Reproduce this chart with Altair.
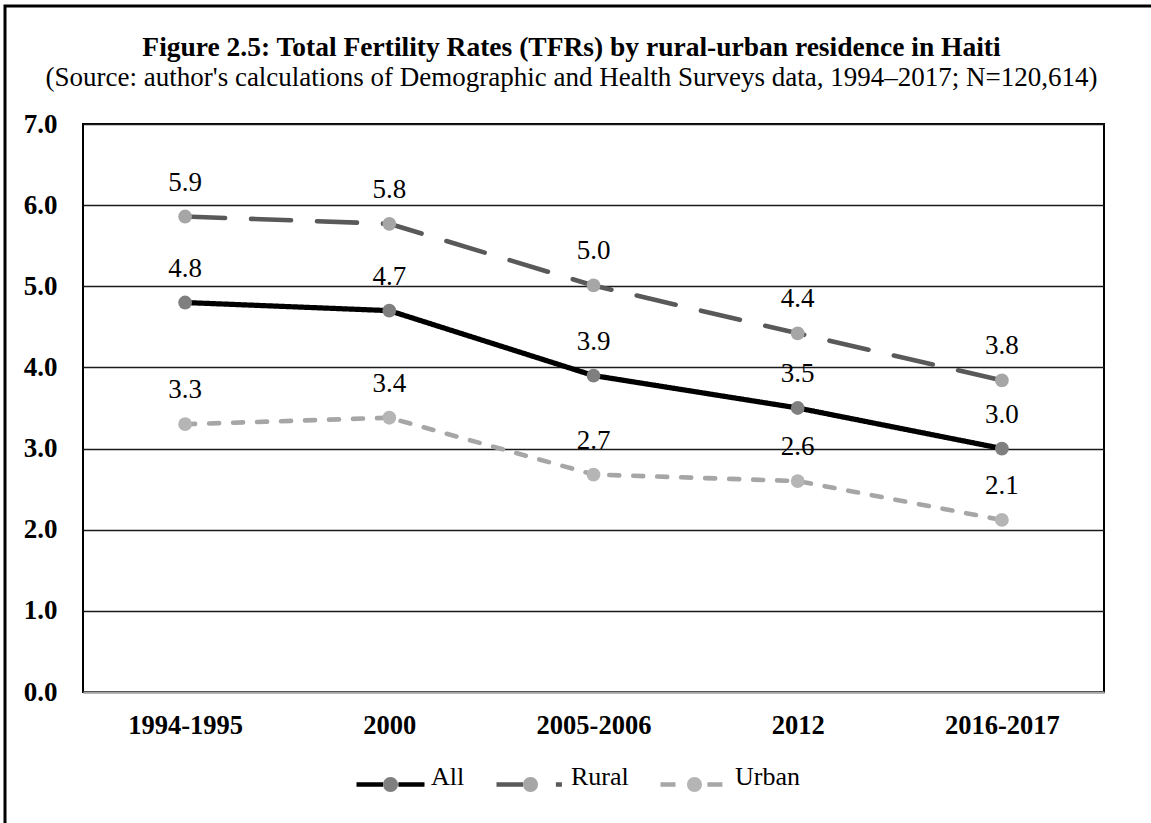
import altair as alt
import pandas as pd

# Survey rounds and Total Fertility Rates by residence
periods = ["1994-1995", "2000", "2005-2006", "2012", "2016-2017"]
series_names = ["All", "Rural", "Urban"]
all_tfr = [4.80, 4.70, 3.90, 3.50, 3.00]
rural_tfr = [5.86, 5.77, 5.01, 4.42, 3.84]
urban_tfr = [3.30, 3.38, 2.68, 2.60, 2.12]

rows = []
for name, values in zip(series_names, [all_tfr, rural_tfr, urban_tfr]):
    for period, value in zip(periods, values):
        rows.append({"period": period, "series": name, "tfr": value})
df = pd.DataFrame(rows)

SERIF = "Liberation Serif"
line_colors = ["#000000", "#595959", "#A6A6A6"]
marker_colors = ["#7F7F7F", "#A6A6A6", "#B5B5B5"]
line_widths = [5.2, 4.6, 4.6]
line_dashes = [[1, 0], [40, 26], [10, 14]]

# Legend key: one path per entry = left segment, marker circle, right segment.
# The circle's outline is traced inside a dash gap so only its fill shows.
SYM = 4624  # 68 px wide legend keys
KEY_PATH = ("M-1,0L-0.22,0A0.22,0.22,0,1,1,0.22,0"
            "A0.22,0.22,0,1,1,-0.22,0A0.22,0.22,0,1,1,0.22,0L1,0")
key_dashes = [[26.5, 70.5, 30, 0], [26.5, 88, 6, 10], [15, 87, 15, 10]]
LEG_X = 271
LEG_Y = 624

x_enc = alt.X(
    "period:N",
    sort=periods,
    scale=alt.Scale(type="point", padding=0.5),
    axis=alt.Axis(
        title=None, labelAngle=0, ticks=False, grid=False,
        domain=True, domainColor="#A6A6A6", domainWidth=2,
        labelFont=SERIF, labelFontSize=26.5, labelFontWeight="bold",
        labelColor="#000000", labelPadding=20, zindex=1,
    ),
)
y_enc = alt.Y(
    "tfr:Q",
    scale=alt.Scale(domain=[0, 7], nice=False, zero=True),
    axis=alt.Axis(
        title=None, values=[0, 1, 2, 3, 4, 5, 6, 7], format=".1f",
        ticks=False, domain=False, grid=True, gridColor="#1a1a1a", gridWidth=1.3,
        labelFont=SERIF, labelFontSize=27, labelFontWeight="bold",
        labelColor="#000000", labelPadding=26,
    ),
)

base = alt.Chart(df)

# one line + marker layer per series
series_layers = []
for name, lc, lw, dash in zip(series_names, line_colors, line_widths, line_dashes):
    sub = base.transform_filter(alt.datum.series == name)
    series_layers.append(
        sub.mark_line(color=lc, strokeWidth=lw, strokeDash=dash,
                      strokeCap="round", strokeJoin="round").encode(x=x_enc, y=y_enc)
    )
for name, mc in zip(series_names, marker_colors):
    sub = base.transform_filter(alt.datum.series == name)
    series_layers.append(
        sub.mark_point(filled=True, opacity=1, size=190, color=mc).encode(x=x_enc, y=y_enc)
    )

labels = base.mark_text(
    dy=-34, font=SERIF, fontSize=27, color="#000000", baseline="middle"
).encode(
    x=x_enc,
    y=y_enc,
    text=alt.Text("tfr:Q", format=".1f"),
)

# legend carrier: no marks drawn, only the shared legend for the three series
key_legend = alt.Legend(
    title=None, orient="none", legendX=LEG_X, legendY=LEG_Y,
    direction="horizontal", symbolType=KEY_PATH, symbolSize=SYM,
    symbolStrokeWidth=4.5, symbolOpacity=1, columnPadding=22, labelOffset=4,
    labelFont=SERIF, labelFontSize=26, labelBaseline="alphabetic",
    labelColor="#000000",
)
legend_layer = base.transform_filter("false").mark_point(filled=True).encode(
    x=x_enc,
    y=y_enc,
    stroke=alt.Stroke("series:N", scale=alt.Scale(domain=series_names, range=line_colors),
                      legend=key_legend),
    strokeDash=alt.StrokeDash("series:N", scale=alt.Scale(domain=series_names, range=key_dashes),
                              legend=key_legend),
    fill=alt.Fill("series:N", scale=alt.Scale(domain=series_names, range=marker_colors),
                  legend=key_legend),
)

# page frame around the figure
frame = alt.Chart(pd.DataFrame({"f": [0]})).mark_rect(
    fill="transparent", stroke="#000000", strokeWidth=3
).encode(
    x=alt.value(-78), x2=alt.value(1200),
    y=alt.value(-118), y2=alt.value(900),
)

chart = (
    alt.layer(*series_layers, labels, legend_layer, frame)
    .properties(
        width=1021,
        height=568,
        padding={"left": 83, "top": 124, "right": 47, "bottom": 131},
        autosize=alt.AutoSizeParams(type="none"),
        background="#ffffff",
        title=alt.TitleParams(
            text="Figure 2.5: Total Fertility Rates (TFRs) by rural-urban residence in Haiti",
            subtitle="(Source: author's calculations of Demographic and Health Surveys data, 1994\u20132017; N=120,614)",
            font=SERIF, fontSize=27.5, fontWeight="bold", color="#000000",
            subtitleFont=SERIF, subtitleFontSize=27, subtitleColor="#000000",
            anchor="middle", dx=-22, offset=-86, subtitlePadding=3,
        ),
    )
    .configure_view(stroke="#000000", strokeWidth=2)
)

chart.save("out.html", embed_options={"renderer": "svg", "actions": False})
